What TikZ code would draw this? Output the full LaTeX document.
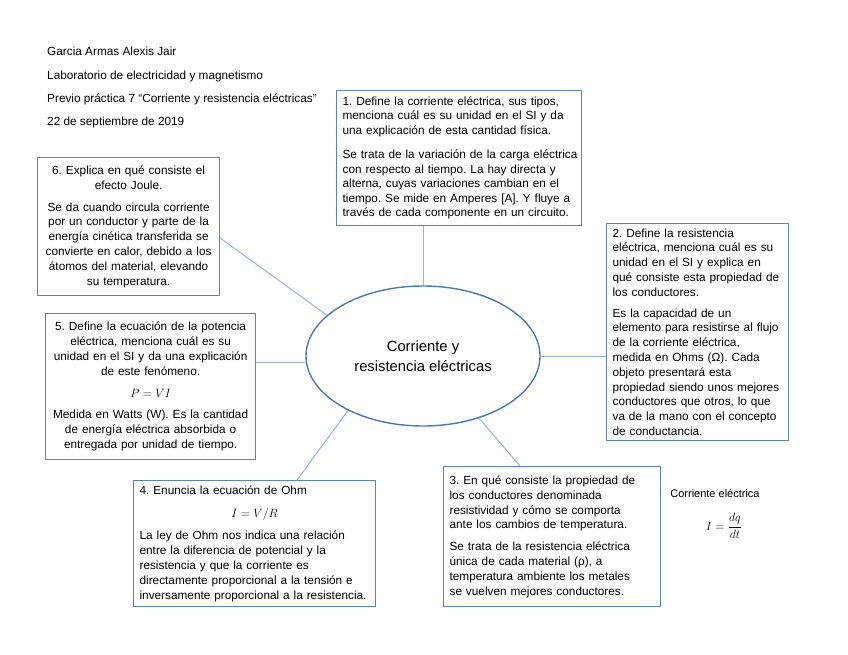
\documentclass[tikz,border=0pt]{standalone}
\usepackage{fontspec}
\setmainfont{Liberation Sans}
\usetikzlibrary{shapes.geometric,calc}
\definecolor{boxblue}{HTML}{5B84B5}
\definecolor{linkblue}{HTML}{95B3D7}
\definecolor{hubblue}{HTML}{4A7AB0}
\frenchspacing

\begin{document}
\begin{tikzpicture}[x=1pt,y=-1pt]
    \tikzstyle{box}=[draw=boxblue,line width=1.2pt,anchor=north west,inner xsep=6pt,inner ysep=5pt,font=\fontsize{11.8}{14.8}\selectfont]
    \tikzstyle{hub}=[draw=hubblue,line width=1.4pt,ellipse,inner sep=0pt,minimum width=234pt,minimum height=140pt,align=center,font=\fontsize{14.8}{20}\selectfont]
    \tikzstyle{link}=[draw=linkblue,line width=1pt]
    \tikzstyle{hdr}=[anchor=base west,inner sep=0pt,font=\fontsize{11.8}{14.8}\selectfont]
    \useasboundingbox (0,0) rectangle (848,655);

    \node[hdr] (author) at (47,56) {Garcia Armas Alexis Jair};
    \node[hdr] (lab) at (47,80) {Laboratorio de electricidad y magnetismo};
    \node[hdr] (prev) at (47,103) {Previo práctica 7 “Corriente y resistencia eléctricas”};
    \node[hdr] (date) at (47,126) {22 de septiembre de 2019};

    \node[hub] (hub) at (423,356) {Corriente y\\resistencia eléctricas};

    \node[box,text width=233pt,minimum height=135pt,align=left,font=\fontsize{11.8}{14.5}\selectfont] (res1) at (336,90)
        {1. Define la corriente eléctrica, sus tipos,\\menciona cuál es su unidad en el SI y da\\una explicación de esta cantidad física.\\[10pt]%
         \mbox{Se trata de la variación de la carga eléctrica}\\con respecto al tiempo. La hay directa y\\alterna, cuyas variaciones cambian en el\\tiempo. Se mide en Amperes [A]. Y fluye a\\través de cada componente en un circuito.};
    \node[box,text width=170pt,minimum height=217pt,align=left] (res2) at (606,223)
        {2. Define la resistencia\\eléctrica, menciona cuál es su\\unidad en el SI y explica en\\qué consiste esta propiedad de\\los conductores.\\[6pt]%
         Es la capacidad de un\\elemento para resistirse al flujo\\de la corriente eléctrica,\\medida en Ohms (Ω). Cada\\objeto presentará esta\\propiedad siendo unos mejores\\conductores que otros, lo que\\va de la mano con el concepto\\de conductancia.};
    \node[box,text width=205pt,minimum height=140pt,align=left] (res3) at (443,466)
        {3. En qué consiste la propiedad de\\los conductores denominada\\resistividad y cómo se comporta\\ante los cambios de temperatura.\\[7pt]%
         Se trata de la resistencia eléctrica\\única de cada material (ρ), a\\temperatura ambiente los metales\\se vuelven mejores conductores.};
    \node[box,text width=230pt,minimum height=126pt,align=left] (res4) at (133,480)
        {4. Enuncia la ecuación de Ohm\\[8pt]%
         \makebox[\hsize]{$I=V/R$}\\[8pt]%
         La ley de Ohm nos indica una relación\\entre la diferencia de potencial y la\\resistencia y que la corriente es\\directamente proporcional a la tensión e\\inversamente proporcional a la resistencia.};
    \node[box,text width=198pt,minimum height=146pt,align=center] (res5) at (45,313)
        {5. Define la ecuación de la potencia\\eléctrica, menciona cuál es su\\unidad en el SI y da una explicación\\de este fenómeno.\\[7pt]%
         \mbox{$P=VI$}\\[7pt]%
         Medida en Watts (W). Es la cantidad\\de energía eléctrica absorbida o\\entregada por unidad de tiempo.};
    \node[box,text width=170pt,minimum height=138pt,align=center] (res6) at (37,157)
        {6. Explica en qué consiste el\\efecto Joule.\\[7pt]%
         Se da cuando circula corriente\\por un conductor y parte de la\\energía cinética transferida se\\convierte en calor, debido a los\\átomos del material, elevando\\su temperatura.};

    \node[font=\fontsize{11}{13}\selectfont] (lbl) at (715,493) {Corriente eléctrica};
    \node[font=\fontsize{13}{15}\selectfont] (eq) at (724,526) {$\displaystyle I=\frac{dq}{dt}$};

    \draw[link] (hub.north) -- (hub.north |- res1.south);
    \draw[link] (hub.east) -- (hub.east -| res2.west);
    \draw[link] (hub.-48) -- ($(res3.north west)+(77pt,0pt)$);
    \draw[link] (hub.216) -- ($(res4.north west)+(164pt,0pt)$);
    \draw[link] ($(res5.north east)+(0pt,-49pt)$) coordinate (p5) -- (p5 -| hub.west);
    \draw[link] ($(res6.north east)+(0pt,-81pt)$) -- (hub.157);
\end{tikzpicture}
\end{document}
